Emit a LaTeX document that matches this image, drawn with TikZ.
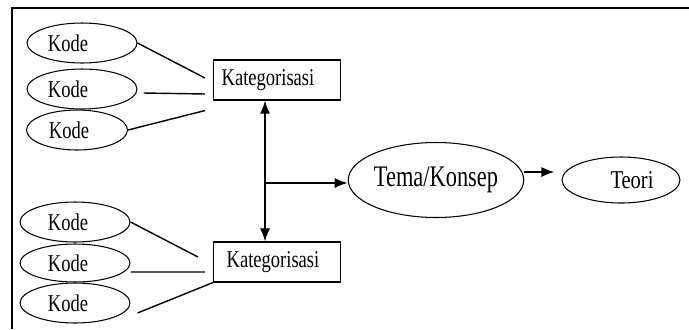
\documentclass[tikz,border=0pt]{standalone}
\usepackage{fontspec}
\setmainfont{Liberation Serif}
\usepackage{graphicx}
\usepackage{tikz}
\usetikzlibrary{shapes.geometric,arrows.meta}
\newcommand\narrow[3]{\hspace{#1}\scalebox{#2}[1]{#3}}

\begin{document}
\begin{tikzpicture}[x=0.02cm, y=-0.02cm,
	kode/.style = {draw, ellipse, line width=0.6pt, inner sep=0, minimum width=2.2cm, minimum height=0.8cm, font=\fontsize{13.7}{15}\selectfont},
	kat/.style = {draw, rectangle, line width=0.6pt, inner sep=0, minimum width=2.54cm, minimum height=0.8cm, font=\fontsize{13.7}{15}\selectfont},
	link/.style = {line width=0.8pt},
	arr/.style = {line width=0.9pt, -{Latex[length=0.26cm,width=0.2cm]}}]
	\useasboundingbox (0,0) rectangle (689,329);
	% frame
	\draw[line width=1.4pt] (12,329) -- (12,8) -- (689,8);
	% kode
	\node[kode] (k1) at (82,43){\narrow{-0.56cm}{0.77}{Kode}};
	\node[kode] (k2) at (82,89){\narrow{-0.56cm}{0.77}{Kode}};
	\node[kode, minimum width=2.02cm] (k3) at (77,130){\narrow{-0.32cm}{0.77}{Kode}};
	\node[kode] (k4) at (75,222){\narrow{-0.28cm}{0.77}{Kode}};
	\node[kode, minimum height=0.76cm] (k5) at (75,263){\narrow{-0.28cm}{0.77}{Kode}};
	\node[kode] (k6) at (75,303){\narrow{-0.28cm}{0.77}{Kode}};
	% kategori
	\node[kat] (kat1) at (277,80){\narrow{-0.36cm}{0.77}{Kategorisasi}};
	\node[kat] (kat2) at (277,262){\narrow{-0.16cm}{0.77}{Kategorisasi}};
	% tema, teori
	\node[draw, ellipse, line width=0.6pt, inner sep=0, minimum width=2.74cm, minimum height=1.5cm, font=\fontsize{17}{19}\selectfont] (tema) at (436,180){\narrow{0cm}{0.75}{Tema/Konsep}};
	\node[draw, ellipse, line width=0.6pt, inner sep=0, minimum width=2.36cm, minimum height=0.92cm, font=\fontsize{14.6}{16}\selectfont] (teori) at (621,180){\narrow{0.44cm}{0.8}{Teori}};
	\coordinate (j) at (265,183);
	% garis
	\draw[link] (k1.east) -- ([xshift=-0.16cm, yshift=0.04cm]kat1.west);
	\draw[link] ([xshift=0.12cm, yshift=-0.08cm]k2.east) -- ([xshift=-0.16cm, yshift=-0.28cm]kat1.west);
	\draw[link] (k3.east) -- ([xshift=-0.16cm, yshift=-0.2cm]kat1.south west);
	\draw[link] (k4.east) -- ([xshift=-0.3cm, yshift=0.1cm]kat2.west);
	\draw[link] ([yshift=-0.18cm]k5.east) -- ([xshift=-0.16cm, yshift=-0.2cm]kat2.west);
	\draw[link] ([xshift=0.14cm, yshift=-0.2cm]k6.east) -- (kat2.south west);
	% panah
	\draw[arr] (j) -- (j |- kat1.south);
	\draw[arr] (j) -- (j |- kat2.north);
	\draw[arr] (j) -- (j -| tema.west);
	\draw[arr] ([yshift=0.16cm]tema.east) -- ([xshift=-0.14cm, yshift=0.16cm]teori.west);
\end{tikzpicture}
\end{document}
